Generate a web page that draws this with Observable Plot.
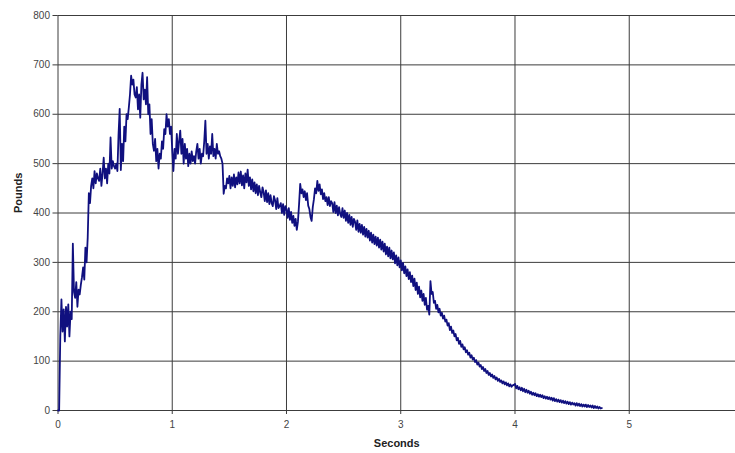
<!DOCTYPE html>
<html>
<head>
<meta charset="utf-8">
<script src="https://cdn.jsdelivr.net/npm/d3@7"></script>
<script src="https://cdn.jsdelivr.net/npm/@observablehq/plot@0.6"></script>
<style>
  html, body { margin: 0; padding: 0; background: #fff; overflow: hidden; }
  svg { display: block; }
</style>
</head>
<body>
<div id="chart"></div>
<script>
// Sampling of the force trace (seconds)
const timeStart = 0;
const timeStep = 0.01;

// Force readings (pounds), one per sample
const pounds = [
  0, 0, 150, 225, 160, 205, 140, 210, 170, 215,
  150, 200, 185, 338, 240, 228, 260, 210, 245, 235,
  255, 270, 290, 265, 330, 300, 350, 440, 420, 455,
  470, 450, 485, 460, 480, 470, 465, 490, 455, 480,
  512, 470, 490, 460, 500, 480, 553, 490, 505, 495,
  490, 500, 485, 560, 611, 487, 540, 505, 575, 545,
  600, 590, 614, 640, 678, 660, 670, 640, 634, 655,
  610, 640, 593, 660, 684, 630, 650, 620, 675, 600,
  620, 560, 590, 540, 526, 550, 505, 530, 490, 520,
  510, 545, 530, 570, 560, 600, 575, 590, 560, 575,
  526, 485, 530, 510, 560, 520, 545, 567, 520, 550,
  500, 540, 510, 530, 495, 520, 500, 525, 505, 515,
  500, 525, 540, 510, 530, 500, 520, 515, 545, 587,
  520, 540, 510, 535, 520, 560, 515, 530, 510, 540,
  520, 525, 515, 510, 500, 439, 455, 450, 470, 460,
  475, 450, 472, 455, 478, 452, 472, 458, 482, 460,
  484, 456, 476, 450, 480, 462, 488, 455, 472, 448,
  468, 444, 462, 440, 458, 436, 455, 442, 432, 452,
  442, 424, 446, 422, 440, 418, 436, 420, 414, 434,
  426, 408, 430, 410, 414, 420, 400, 418, 396, 414,
  408, 390, 410, 386, 402, 380, 394, 374, 388, 366,
  382, 418, 459, 440, 448, 432, 444, 426, 440, 415,
  408, 392, 384, 412, 428, 450, 440, 465, 445, 458,
  438, 448, 428, 440, 424, 432, 416, 432, 414, 424,
  420, 402, 422, 400, 415, 395, 412, 398, 392, 410,
  390, 405, 384, 400, 380, 396, 376, 392, 372, 388,
  382, 366, 385, 362, 378, 360, 376, 356, 372, 352,
  368, 350, 364, 344, 360, 340, 356, 337, 352, 334,
  350, 330, 346, 326, 342, 322, 338, 316, 332, 312,
  330, 308, 324, 306, 320, 298, 314, 294, 310, 290,
  304, 284, 299, 278, 292, 272, 286, 266, 280, 260,
  273, 252, 267, 244, 259, 236, 251, 229, 243, 222,
  236, 214, 228, 204, 212, 194, 262, 236, 240, 218,
  222, 206, 214, 199, 206, 192, 198, 186, 192, 180,
  184, 172, 177, 163, 170, 157, 162, 150, 155, 142,
  147, 135, 141, 129, 134, 124, 128, 118, 122, 113,
  117, 107, 112, 103, 107, 98, 102, 93, 97, 89,
  92, 84, 88, 80, 84, 76, 80, 72, 76, 69,
  73, 66, 70, 63, 67, 60, 64, 58, 61, 55,
  59, 53, 57, 51, 55, 49, 53, 48, 51, 52,
  54, 45, 50, 43, 47, 41, 46, 39, 44, 37,
  42, 36, 40, 34, 38, 32, 36, 31, 35, 29,
  33, 28, 32, 27, 31, 25, 29, 24, 28, 23,
  27, 22, 26, 20, 25, 19, 23, 18, 22, 17,
  21, 16, 20, 15, 19, 14, 18, 13, 17, 12,
  16, 12, 15, 10, 15, 10, 14, 9, 13, 8,
  12, 8, 12, 7, 11, 7, 10, 6, 10, 5,
  9, 5, 8, 4, 7, 4, 5
];

// Axis ticks
const xTicks = [0, 1, 2, 3, 4, 5];
const yTicks = [0, 100, 200, 300, 400, 500, 600, 700, 800];
const xTitle = "Seconds";
const yTitle = "Pounds";

const trace = pounds.map((p, i) => ({ t: timeStart + i * timeStep, p }));

const gridColor = "#3c3c3c";

const chart = Plot.plot({
  width: 735,
  height: 453,
  marginLeft: 57.5,
  marginRight: 0,
  marginTop: 15,
  marginBottom: 43,
  style: { fontFamily: "'Liberation Sans', Arial, sans-serif", fontSize: "10px", color: "#333", background: "#fff" },
  x: { domain: [0, 5.93] },
  y: { domain: [0, 800] },
  marks: [
    Plot.ruleY(yTicks, { stroke: gridColor, strokeWidth: 1 }),
    Plot.ruleX(xTicks, { stroke: gridColor, strokeWidth: 1 }),
    Plot.axisY({ ticks: yTicks, tickSize: 5, tickPadding: 3, label: null, tickFormat: d => String(d), stroke: gridColor, fill: "#444" }),
    Plot.axisX({ ticks: xTicks, tickSize: 4, tickPadding: 6, label: null, tickFormat: d => String(d), stroke: gridColor, fill: "#444" }),
    Plot.line(trace, { x: "t", y: "p", stroke: "#10107f", strokeWidth: 1.8, strokeLinejoin: "round" }),
    Plot.text([yTitle], { frameAnchor: "left", dx: -39.5, rotate: -90, fontWeight: "bold", fontSize: 11, fill: "#222" }),
    Plot.text([xTitle], { frameAnchor: "bottom", dy: 36, fontWeight: "bold", fontSize: 11, fill: "#222" })
  ]
});

document.getElementById("chart").appendChild(chart);
</script>
</body>
</html>
